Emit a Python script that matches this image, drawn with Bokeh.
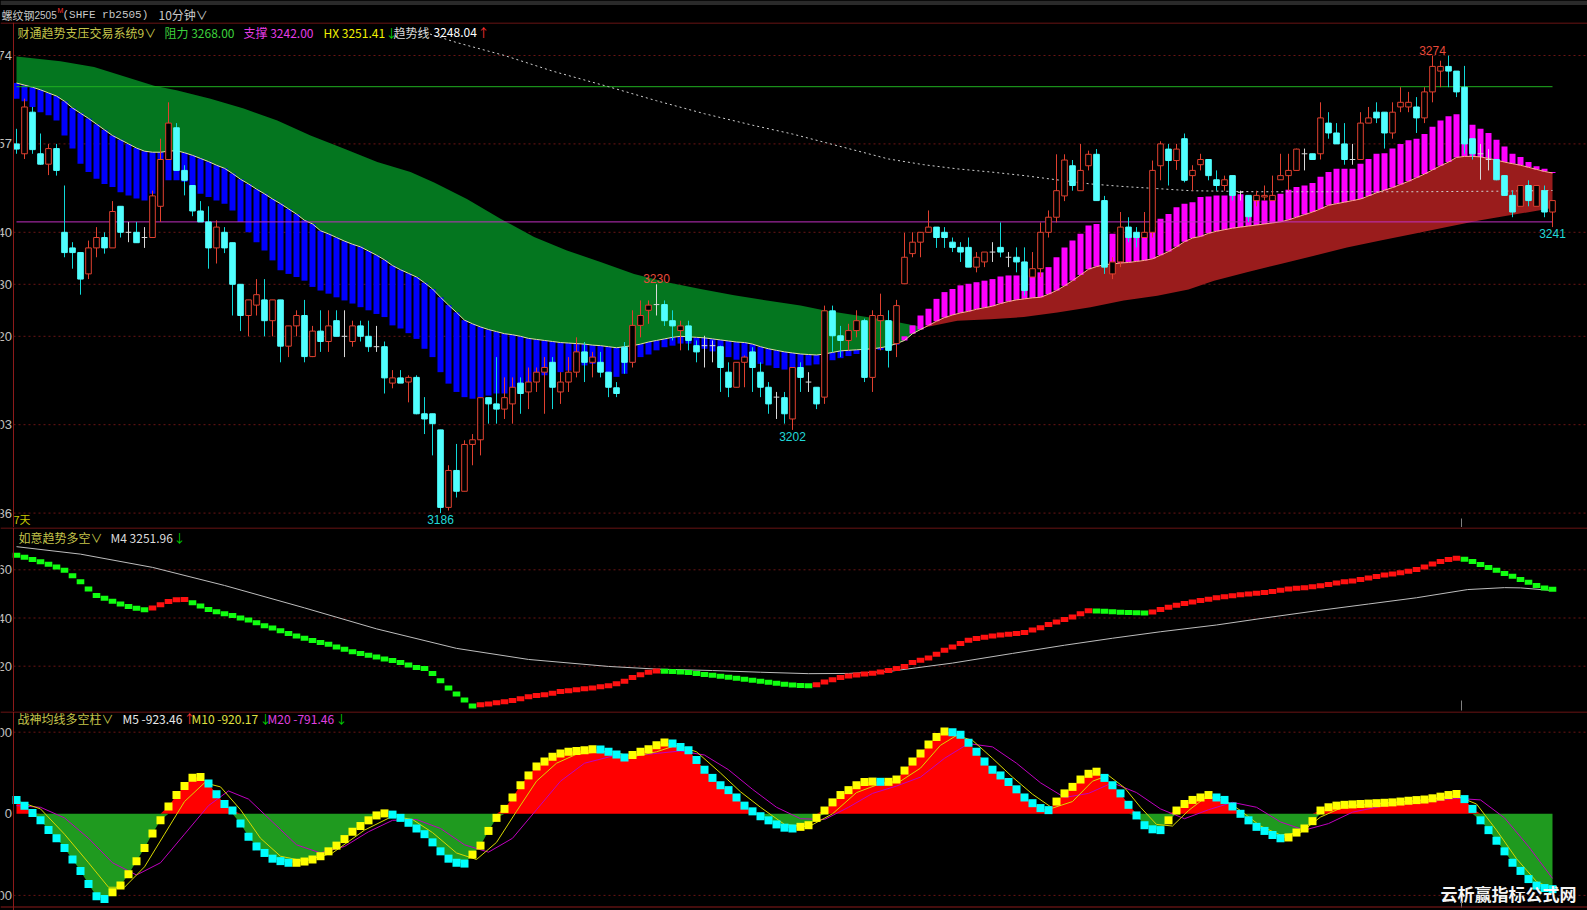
import numpy as np
from bokeh.plotting import figure
from bokeh.layouts import column
from bokeh.models import Range1d, Span
from bokeh.core.properties import value
from bokeh.embed import file_html
from bokeh.resources import INLINE

# ---------------- data ----------------
bar_open = [
 3257.0,3255.1,3263.1,3255.1,3253.1,3256.1,3240.0,3237.0,3236.1,3232.0,
 3237.0,3239.0,3237.0,3245.0,3240.0,3240.0,3239.0,3239.0,3245.0,3254.0,
 3260.1,3251.9,3249.0,3244.1,3242.0,3237.0,3240.0,3238.0,3230.0,3224.0,
 3226.0,3227.0,3223.0,3227.0,3218.1,3222.0,3224.0,3216.1,3221.0,3219.0,
 3223.0,3220.0,3219.0,3222.0,3220.0,3218.0,3218.0,3211.0,3212.0,3211.2,
 3212.1,3205.1,3205.1,3202.0,3187.1,3194.2,3190.2,3199.2,3200.1,3208.2,
 3207.0,3206.0,3207.0,3211.0,3209.3,3211.2,3213.1,3215.0,3209.3,3211.2,
 3213.1,3217.0,3215.0,3215.0,3213.1,3210.1,3217.9,3215.0,3222.1,3225.0,
 3226.1,3226.1,3223.0,3221.1,3222.0,3218.2,3218.2,3218.2,3218.0,3213.1,
 3210.2,3215.0,3217.0,3213.1,3210.2,3208.3,3208.2,3204.1,3214.0,3211.2,
 3210.2,3208.3,3224.9,3220.1,3219.2,3221.1,3223.0,3212.1,3223.0,3223.0,
 3218.6,3230.1,3235.9,3238.1,3240.0,3241.0,3240.0,3238.1,3237.1,3237.1,
 3233.3,3234.3,3236.2,3237.1,3235.2,3235.2,3234.3,3231.4,3233.0,3240.0,
 3242.9,3247.0,3252.8,3248.0,3252.8,3255.0,3246.1,3232.0,3234.3,3241.0,
 3240.0,3239.0,3240.0,3252.8,3256.0,3253.8,3258.0,3250.9,3253.0,3254.0,
 3250.1,3249.0,3250.9,3247.7,3247.1,3246.1,3246.8,3246.1,3250.1,3250.9,
 3251.9,3255.1,3255.1,3255.1,3261.0,3259.1,3257.0,3254.0,3254.0,3261.0,
 3263.1,3263.1,3259.1,3264.1,3264.1,3264.1,3262.0,3267.0,3271.0,3271.9,
 3271.0,3267.9,3258.0,3255.1,3254.0,3254.0,3250.9,3247.1,3245.0,3249.0,
 3245.0,3248.0,3243.9]
bar_high = [
 3259.9,3265.7,3264.1,3259.0,3257.0,3257.0,3249.0,3238.1,3236.1,3238.4,
 3241.0,3240.0,3246.0,3245.0,3242.0,3242.0,3241.0,3248.0,3258.0,3265.0,
 3261.0,3252.9,3249.0,3246.0,3245.0,3242.3,3241.0,3238.0,3230.0,3227.0,
 3231.0,3231.0,3227.0,3227.0,3222.0,3225.0,3227.0,3222.0,3225.0,3225.0,
 3225.0,3225.0,3223.0,3223.0,3223.0,3222.0,3219.0,3213.5,3213.5,3212.5,
 3212.5,3208.3,3205.1,3202.0,3195.2,3199.3,3200.0,3201.2,3208.2,3208.2,
 3216.0,3212.1,3212.1,3212.1,3214.0,3214.0,3216.0,3216.0,3213.1,3216.0,
 3219.8,3218.9,3217.0,3217.0,3213.1,3211.2,3218.9,3225.0,3226.9,3226.9,
 3230.0,3226.9,3225.0,3223.0,3223.0,3219.2,3220.1,3219.2,3218.2,3215.0,
 3215.0,3216.3,3217.9,3215.0,3211.2,3209.3,3209.3,3214.0,3215.0,3213.1,
 3210.2,3225.9,3225.9,3222.0,3222.4,3225.0,3223.4,3225.0,3228.2,3225.0,
 3227.0,3239.9,3240.0,3240.0,3244.2,3241.0,3241.0,3239.0,3238.1,3239.0,
 3236.2,3236.2,3238.1,3241.9,3236.2,3237.1,3237.1,3236.2,3241.9,3244.2,
 3255.0,3255.0,3253.9,3257.0,3255.7,3256.0,3247.0,3235.2,3243.9,3242.9,
 3241.0,3243.9,3253.8,3257.5,3257.0,3257.0,3259.0,3252.9,3255.1,3254.0,
 3251.9,3250.9,3250.9,3248.0,3247.1,3248.0,3249.0,3250.9,3255.1,3255.1,
 3256.1,3256.1,3255.1,3265.0,3263.1,3261.0,3261.0,3257.0,3263.1,3264.1,
 3265.0,3263.1,3265.0,3267.9,3267.0,3266.0,3267.9,3274.0,3273.0,3274.0,
 3271.0,3272.0,3258.0,3257.0,3256.0,3254.0,3251.0,3248.0,3249.0,3250.0,
 3249.0,3249.0,3246.1]
bar_low = [
 3255.1,3254.1,3255.1,3253.0,3251.0,3250.9,3235.2,3233.0,3228.0,3231.0,
 3235.2,3235.9,3237.0,3239.0,3238.1,3238.0,3237.0,3239.0,3242.0,3254.0,
 3251.9,3247.1,3243.1,3242.0,3233.0,3234.0,3236.0,3224.0,3221.0,3220.0,
 3224.0,3220.0,3220.0,3215.0,3216.0,3220.0,3215.0,3216.0,3217.0,3217.0,
 3220.0,3216.0,3218.0,3219.0,3217.0,3217.0,3209.0,3210.0,3211.0,3207.3,
 3205.0,3201.2,3197.1,3186.0,3186.5,3189.0,3190.2,3195.2,3197.1,3203.2,
 3203.2,3204.1,3203.2,3205.1,3206.0,3209.3,3205.1,3206.0,3207.0,3209.3,
 3212.1,3211.2,3212.1,3212.1,3208.3,3208.3,3212.8,3214.0,3219.8,3222.4,
 3224.0,3222.0,3219.2,3217.3,3217.3,3215.0,3214.0,3215.0,3209.3,3208.3,
 3210.2,3210.2,3209.3,3208.3,3205.1,3204.1,3203.2,3202.0,3209.3,3209.3,
 3206.0,3207.0,3217.0,3216.0,3217.3,3219.8,3211.2,3209.3,3217.3,3214.0,
 3216.0,3230.1,3235.2,3235.2,3240.0,3237.0,3237.0,3236.2,3234.3,3233.3,
 3232.3,3233.3,3234.3,3235.2,3233.3,3232.3,3227.8,3231.4,3231.4,3239.0,
 3241.9,3246.0,3248.0,3248.0,3251.9,3246.1,3232.0,3231.0,3233.3,3238.1,
 3237.1,3239.0,3239.0,3250.0,3249.0,3252.0,3249.6,3248.0,3251.9,3250.0,
 3248.0,3248.0,3246.1,3246.1,3242.0,3245.0,3246.1,3246.1,3250.1,3248.0,
 3251.9,3251.9,3254.0,3254.0,3258.0,3257.0,3253.0,3253.0,3254.0,3261.0,
 3261.0,3256.1,3258.0,3263.1,3263.1,3259.1,3261.0,3265.0,3267.9,3267.9,
 3266.0,3255.1,3254.0,3250.1,3251.9,3250.0,3247.0,3242.9,3245.0,3245.0,
 3245.0,3242.9,3241.0]
bar_close = [
 3256.0,3264.1,3255.9,3253.1,3256.1,3251.9,3236.1,3236.1,3231.0,3237.0,
 3239.0,3237.0,3244.0,3240.0,3240.0,3238.0,3239.0,3247.0,3254.0,3261.0,
 3251.9,3250.0,3244.1,3242.0,3237.0,3241.0,3237.0,3230.0,3224.0,3227.0,
 3228.0,3223.0,3227.0,3218.1,3222.0,3224.0,3216.1,3221.0,3219.0,3222.0,
 3220.0,3220.0,3222.0,3220.0,3218.0,3218.0,3212.0,3212.0,3211.0,3212.1,
 3205.1,3204.1,3203.2,3187.1,3194.2,3190.2,3199.2,3200.1,3208.2,3207.0,
 3206.0,3208.2,3210.2,3209.0,3211.2,3213.1,3214.0,3210.2,3211.2,3213.1,
 3217.0,3215.0,3216.0,3213.1,3210.2,3209.0,3215.0,3222.1,3224.0,3226.0,
 3226.1,3223.0,3222.0,3222.0,3219.2,3217.0,3218.2,3218.2,3214.0,3210.2,
 3215.0,3216.0,3214.0,3210.2,3207.0,3208.3,3205.1,3214.0,3212.1,3211.2,
 3207.0,3224.9,3220.1,3219.2,3221.1,3223.0,3212.1,3224.0,3224.0,3217.3,
 3225.9,3235.2,3238.1,3240.0,3241.0,3239.0,3239.0,3237.1,3236.2,3233.3,
 3235.2,3236.2,3236.2,3236.2,3235.2,3234.3,3228.8,3233.0,3240.0,3242.9,
 3248.0,3253.9,3249.0,3251.9,3255.0,3246.1,3233.3,3234.3,3241.0,3239.0,
 3239.0,3240.0,3251.9,3257.0,3253.8,3256.0,3250.0,3251.9,3254.0,3250.9,
 3249.0,3250.1,3247.1,3247.7,3243.0,3247.1,3247.1,3247.1,3250.9,3251.9,
 3256.0,3255.1,3254.0,3262.0,3259.1,3257.0,3254.0,3254.0,3261.0,3262.0,
 3262.0,3259.1,3263.1,3265.0,3265.0,3262.0,3267.0,3271.9,3271.9,3271.0,
 3267.0,3257.0,3255.1,3255.1,3254.0,3250.1,3247.1,3243.9,3249.0,3246.1,
 3249.0,3243.9,3246.1]

# trend system: middle line (HX) and short line (bar ends), per bar
hx_mid = [
 3268.7,3268.3,3267.9,3267.4,3266.8,3266.2,3265.2,3263.9,3262.9,3261.9,
 3260.8,3259.7,3258.6,3257.8,3257.0,3256.2,3255.6,3255.4,3255.4,3255.6,
 3255.7,3255.3,3254.8,3254.2,3253.6,3252.9,3252.3,3251.3,3250.2,3249.3,
 3248.3,3247.4,3246.4,3245.5,3244.5,3243.5,3242.3,3241.6,3240.3,3239.7,
 3239.0,3238.3,3237.7,3237.2,3236.4,3235.6,3234.7,3233.6,3232.8,3232.1,
 3231.4,3230.3,3229.1,3227.5,3226.0,3224.6,3223.1,3222.4,3221.8,3221.3,
 3220.9,3220.5,3220.3,3220.0,3219.6,3219.4,3219.2,3219.0,3218.8,3218.7,
 3218.6,3218.5,3218.3,3218.2,3218.0,3217.8,3218.0,3218.2,3218.5,3218.9,
 3219.2,3219.5,3219.8,3220.0,3219.9,3219.8,3219.7,3219.5,3219.3,3219.1,
 3218.9,3218.8,3218.5,3218.0,3217.6,3217.3,3217.0,3216.8,3216.6,3216.5,
 3216.4,3216.6,3216.9,3217.2,3217.3,3217.4,3217.5,3217.6,3217.8,3218.1,
 3218.6,3219.2,3220.5,3221.3,3222.1,3222.9,3223.6,3224.1,3224.5,3224.8,
 3225.2,3225.5,3225.8,3226.3,3226.7,3227.0,3227.2,3227.4,3227.5,3228.1,
 3228.8,3229.7,3230.7,3231.8,3232.9,3233.4,3233.8,3233.9,3234.1,3234.2,
 3234.4,3234.6,3234.9,3235.6,3236.3,3237.2,3238.2,3238.9,3239.2,3239.8,
 3240.2,3240.5,3240.8,3241.0,3241.2,3241.4,3241.6,3241.8,3242.0,3242.4,
 3242.9,3243.4,3243.9,3244.5,3245.2,3245.5,3245.8,3246.1,3246.4,3247.0,
 3247.6,3248.1,3248.6,3249.2,3249.8,3250.5,3251.2,3252.0,3252.8,3253.5,
 3254.4,3254.6,3254.6,3254.5,3254.2,3253.9,3253.5,3253.2,3252.9,3252.5,
 3252.1,3251.7,3251.4]
hx_short = [
 3265.7,3265.2,3264.1,3263.1,3262.5,3261.5,3258.6,3256.1,3253.2,3251.6,
 3250.3,3249.3,3248.7,3247.7,3247.1,3246.5,3246.1,3247.4,3248.7,3250.0,
 3250.0,3249.7,3248.4,3247.4,3246.8,3246.1,3245.5,3244.2,3242.0,3240.0,
 3238.1,3236.5,3234.6,3232.7,3232.0,3231.4,3230.7,3229.5,3228.8,3228.2,
 3227.5,3226.9,3226.3,3225.6,3225.0,3224.3,3223.7,3222.1,3221.5,3220.6,
 3219.5,3217.6,3216.0,3213.1,3210.9,3209.3,3208.3,3208.0,3208.3,3208.6,
 3209.0,3209.0,3209.6,3210.5,3211.2,3212.2,3212.5,3213.1,3213.1,3213.4,
 3214.1,3214.4,3214.7,3213.7,3213.1,3212.2,3212.8,3215.0,3216.0,3216.5,
 3217.3,3217.9,3218.2,3218.6,3218.6,3218.2,3217.6,3217.1,3216.6,3216.0,
 3215.5,3215.4,3215.0,3214.7,3214.4,3213.9,3213.6,3213.4,3214.0,3214.4,
 3214.6,3215.0,3215.4,3215.8,3216.2,3216.6,3216.9,3217.1,3217.4,3217.8,
 3218.4,3220.0,3222.1,3224.0,3225.3,3227.2,3228.5,3229.1,3229.8,3230.1,
 3230.4,3230.7,3231.0,3231.5,3231.7,3231.7,3231.7,3231.4,3232.3,3233.3,
 3235.2,3237.1,3238.4,3239.7,3241.3,3241.6,3239.7,3239.7,3239.6,3239.6,
 3239.4,3239.4,3241.0,3242.6,3243.5,3244.8,3245.5,3245.8,3246.8,3246.9,
 3247.1,3247.1,3247.3,3247.3,3246.8,3246.2,3246.1,3246.6,3247.4,3248.2,
 3248.7,3249.0,3249.5,3250.7,3251.6,3252.2,3252.2,3252.2,3253.2,3254.1,
 3255.1,3255.2,3256.1,3257.0,3257.7,3258.0,3258.9,3260.3,3261.5,3262.3,
 3262.7,3261.5,3260.7,3259.9,3259.1,3257.8,3256.5,3255.1,3254.5,3253.5,
 3252.7,3252.2,3251.6]
# slow line: falling part (above HX) and rising part (below HX), sampled
slow_dn_x = [0, 5.5, 9.7, 13.8, 17.2, 20, 24.25, 28.4, 32.6, 36.75, 40.9, 45.1, 49.25,
             52.2, 56.3, 60.5, 64.7, 68.8, 73, 77.2, 81.3, 85.5, 89.7, 93.8, 98, 100.9,
             105.1, 109.25, 113.5]
slow_dn_y = [3273.8, 3272.9, 3271.8, 3269.8, 3268.2, 3267.3, 3265.7, 3263.8, 3261.5, 3258.6,
             3256.1, 3253.5, 3251.6, 3249.6, 3246.4, 3242.6, 3239.1, 3236.5, 3234.3, 3232.0,
             3230.4, 3229.1, 3227.9, 3226.9, 3225.9, 3225.0, 3224.0, 3223.0, 3221.7]
slow_up_x = [113.5, 117.6, 121.75, 125.9, 130.1, 134.25, 138.4, 142.6, 146.5, 149.7, 153.8,
             158, 162.2, 166.3, 170.5, 174.7, 178.8, 183, 187.2, 191.3, 192]
slow_up_y = [3221.7, 3223.0, 3223.3, 3223.7, 3224.6, 3225.6, 3226.9, 3227.8, 3229.0, 3230.7,
             3232.3, 3233.9, 3235.5, 3237.1, 3238.4, 3239.7, 3241.0, 3242.3, 3243.4, 3244.5,
             3244.7]
trend_x = [50.5, 55, 61, 67, 74, 80, 86, 92, 97, 101, 105, 109, 113.4, 117.6, 121.75, 126,
           130, 134.25, 138.4, 142.6, 146.75, 155, 165, 175, 185, 192]
trend_y = [3278.7, 3276.5, 3274.0, 3271.0, 3268.0, 3265.3, 3262.8, 3260.6, 3258.9, 3257.3,
           3255.7, 3254.1, 3253.0, 3252.2, 3251.6, 3250.9, 3250.1, 3249.3, 3248.8, 3248.4,
           3248.0, 3247.8, 3247.8, 3247.8, 3247.9, 3248.04]
resistance = 3268.00
support = 3242.00
hx_last = 3251.41
trend_last = 3248.04
main_ticks = [3274, 3257, 3240, 3230, 3220, 3203, 3186]
hi_lo_marks = [(177, "high"), (80, "high"), (53, "low"), (97, "low"), (192, "low")]

# panel 2: 如意趋势多空 M4 and its slow line
m4 = [
 3266.0,3265.2,3264.3,3263.3,3262.3,3261.2,3259.8,3257.5,3255.0,3252.0,
 3249.3,3248.2,3247.0,3245.8,3244.8,3244.0,3243.4,3244.2,3245.5,3246.8,
 3247.6,3247.7,3246.3,3245.0,3243.5,3242.6,3241.8,3241.0,3240.0,3239.2,
 3238.0,3236.8,3235.8,3234.7,3233.6,3232.5,3231.6,3230.7,3229.8,3229.1,
 3228.0,3227.0,3226.0,3225.3,3224.5,3223.8,3223.0,3222.4,3221.5,3220.5,
 3219.5,3219.0,3217.0,3214.0,3211.0,3208.5,3206.0,3203.5,3204.0,3204.3,
 3204.8,3205.3,3205.8,3206.5,3207.3,3207.8,3208.2,3208.8,3209.5,3209.8,
 3210.2,3210.6,3211.0,3211.5,3211.9,3212.7,3213.8,3215.3,3216.5,3217.5,
 3218.0,3217.9,3217.8,3217.6,3217.4,3217.0,3216.6,3216.2,3215.8,3215.4,
 3215.0,3214.6,3214.2,3213.8,3213.3,3212.9,3212.5,3212.2,3212.0,3211.9,
 3212.3,3213.4,3214.4,3215.3,3215.9,3216.4,3216.8,3217.1,3217.6,3218.2,
 3219.0,3219.9,3221.5,3222.5,3223.4,3225.0,3226.6,3228.0,3229.4,3230.8,
 3231.5,3232.0,3232.5,3232.9,3233.3,3233.6,3234.0,3235.0,3236.0,3237.3,
 3238.3,3239.4,3240.4,3241.8,3243.0,3242.9,3242.8,3242.6,3242.4,3242.3,
 3242.2,3242.1,3242.5,3243.5,3244.5,3245.3,3246.0,3246.6,3247.3,3247.8,
 3248.4,3248.8,3249.2,3249.6,3250.0,3250.3,3250.6,3251.0,3251.5,3252.0,
 3252.3,3252.6,3253.0,3253.4,3253.9,3254.5,3255.0,3255.4,3256.0,3256.6,
 3257.2,3257.8,3258.3,3258.8,3259.4,3260.1,3261.2,3262.4,3263.4,3264.3,
 3264.8,3264.4,3263.4,3262.2,3261.0,3259.8,3258.5,3257.3,3256.0,3254.8,
 3253.5,3252.4,3251.96]
m4_slow_x = [0, 8, 17, 26, 36, 45, 55, 64, 74, 80, 87, 93, 99, 104, 109, 117, 124.5, 131,
             137, 143, 150, 156, 162.5, 169, 175, 181.4, 186, 188, 192]
m4_slow_y = [3269.6, 3266.5, 3261.0, 3253.5, 3244.2, 3235.5, 3227.4, 3222.8, 3219.9, 3218.8,
             3218.2, 3217.5, 3216.9, 3217.0, 3217.8, 3221.3, 3225.3, 3228.7, 3231.6, 3234.3,
             3237.1, 3240.0, 3243.0, 3245.8, 3248.4, 3251.8, 3252.6, 3252.5, 3251.4]
p2_ticks = [3260, 3240, 3220]

# panel 3: 战神均线多空柱 M5 / M10 / M20
m5 = [
 168,100,10,-80,-200,-300,-420,-560,-700,-860,
 -1010,-1045,-960,-880,-740,-580,-420,-240,-80,90,
 230,340,441,450,370,240,120,40,-120,-280,
 -400,-480,-550,-580,-600,-600,-585,-560,-520,-460,
 -390,-310,-220,-150,-80,-20,5,-10,-50,-110,
 -180,-250,-350,-460,-550,-600,-610,-500,-390,-210,
 -50,60,200,350,470,580,640,700,740,760,
 770,780,790,789,760,727,690,720,760,790,
 840,875,860,820,780,660,540,440,350,290,
 200,100,30,-30,-80,-130,-170,-180,-160,-140,
 -50,40,140,230,290,350,390,395,392,392,
 420,530,640,740,850,940,1010,1000,970,870,
 760,640,540,470,390,300,200,130,70,45,
 150,250,330,420,490,516,440,350,250,110,
 -20,-140,-190,-200,-80,40,120,170,200,230,
 200,170,90,0,-80,-160,-210,-260,-300,-290,
 -230,-180,-90,40,80,100,110,115,120,125,
 130,135,140,150,160,168,175,190,210,230,
 243,180,60,-80,-200,-330,-460,-600,-700,-800,
 -880,-910,-923.46]
m10_x = [0, 3, 6, 9, 11.5, 13.5, 16, 18.5, 21, 23.5, 25.5, 28, 30.5, 33, 36, 39.5, 43.5, 47,
         49.5, 52, 55, 57.5, 60, 62.5, 65, 67.5, 70, 74, 77, 80, 82.5, 85, 88, 90.5, 93, 96,
         99, 102, 105, 108, 110.5, 113, 115.5, 117.5, 119.5, 122, 124.5, 127, 129.5, 132,
         134.5, 136.5, 138.5, 140.5, 142.5, 144.5, 146.5, 148.5, 150.5, 153, 155.5, 158,
         160.5, 163, 166, 170, 175, 180, 182.5, 185, 187.5, 190, 192]
m10_y = [160, 60, -250, -600, -900, -900, -650, -250, 150, 380, 330, 50, -300, -520, -580,
         -480, -200, -30, -70, -230, -480, -560, -350, 30, 400, 620, 730, 770, 700, 760, 840,
         760, 500, 270, 80, -130, -160, 0, 260, 370, 400, 560, 840, 960, 900, 680, 450, 240,
         70, 150, 400, 470, 320, 80, -130, -150, 40, 190, 200, 40, -150, -260, -230, -40, 90,
         125, 160, 220, 120, -200, -550, -830, -920.17]
m20_x = [0, 3, 6, 9, 12, 15, 18, 21, 24, 26.5, 29, 32, 35, 38, 41, 44, 47, 50, 53, 56, 59,
         62, 65, 68, 71, 75, 79, 83, 86, 89, 92, 95, 98, 101, 104, 107, 110, 113, 116, 119,
         122, 125, 128, 131, 134, 137, 140, 143, 146, 149, 152, 155, 158, 161, 164, 167, 171,
         176, 180, 183, 186, 189, 192]
m20_y = [100, 80, -50, -300, -600, -750, -600, -250, 100, 280, 180, -100, -380, -480, -400,
         -220, -80, -70, -180, -380, -470, -300, 50, 400, 620, 720, 730, 770, 720, 540, 300, 80,
         -60, -70, 80, 250, 340, 450, 680, 860, 820, 620, 380, 200, 250, 380, 260, 60, -60, 50,
         140, 80, -100, -200, -120, 20, 100, 140, 190, 170, -50, -400, -791.46]
p3_ticks = [1000, 0, -1000]

# ---------------- layout helpers (pixel -> data) ----------------
W = 1587
def bx(px):
    return (px - 16.0) / 8.0
def y_main(py):
    return 3274.0 - (py - 55.0) / 5.2
def y_p2(py):
    return 3260.0 - (py - 569.3) / 2.41
def y_p3(py):
    return (813.3 - py) / 0.0816

BORDER = "#8c1a1a"
GRID = "#6a1414"
OLIVE = "#c4c44a"
CJK = "Noto Sans CJK SC"

def panel(h, y0, y1, xr=None):
    xr = xr or (bx(0), bx(W))
    p = figure(width=W, height=h, x_range=Range1d(*xr), y_range=Range1d(y0, y1),
               x_axis_location=None, y_axis_location=None, toolbar_location=None,
               output_backend="svg", min_border=0, background_fill_color="#000000",
               border_fill_color="#000000", outline_line_color=None)
    p.grid.visible = False
    return p

def txt(p, x, y, s, color, size="12px", font=CJK, align="left", baseline="middle", style="normal"):
    p.text(x=[x], y=[y], text=[s], text_color=color, text_font=value(font),
           text_font_size=size, text_align=align, text_baseline=baseline,
           text_font_style=style)

N = len(bar_close)
idx = np.arange(N, dtype=float)

# ---------------- header strip ----------------
ph = panel(22, 22, 0, xr=(0, W))
ph.quad(left=[0], right=[W], top=[0], bottom=[4.5], fill_color="#2a2a2a", line_color=None)
txt(ph, 1, 14, "螺纹钢", "#c8c8c8", size="11px")
txt(ph, 34, 14, "2505", "#c8c8c8", size="10px", font="Liberation Sans")
txt(ph, 57, 9.5, "M", "#ff3030", size="7px", font="Liberation Sans")
txt(ph, 62, 14, "(SHFE rb2505)", "#c8c8c8", size="11px", font="Liberation Mono")
txt(ph, 158, 14, "10分钟∨", "#c8c8c8")

# ---------------- main panel ----------------
pm = panel(505, y_main(527), y_main(22))
pm.segment(x0=bx(13), x1=bx(W), y0=main_ticks, y1=main_ticks, line_color=GRID, line_dash="2 3")

o = np.array(bar_open); h = np.array(bar_high); l = np.array(bar_low); c = np.array(bar_close)
mid = np.array(hx_mid); sh = np.array(hx_short)
k = int(np.floor(slow_dn_x[-1]))
gx = list(slow_dn_x) + list(idx[k::-1])
gy = list(slow_dn_y) + list(mid[k::-1])
pm.patch(gx, gy, fill_color="#04761f", line_color=None)
rx = [slow_up_x[0]] + list(idx[k + 1:]) + list(slow_up_x[::-1])
ry = [slow_up_y[0]] + list(mid[k + 1:]) + list(slow_up_y[::-1])
pm.patch(rx, ry, fill_color="#9a1c1c", line_color=None)

bar_col = np.where(sh > mid, "#ff00ff", "#0000ff")
pm.vbar(x=idx, bottom=np.minimum(sh, mid), top=np.maximum(sh, mid), width=0.75,
        fill_color=bar_col, line_color=None)
pm.line(list(idx[:k + 1]) + [slow_dn_x[-1]], list(mid[:k + 1]) + [slow_dn_y[-1]],
        line_color="#e4e49c", line_width=1)
pm.line([slow_up_x[0]] + list(idx[k + 1:]), [slow_up_y[0]] + list(mid[k + 1:]),
        line_color="#ffae8c", line_width=1)

pm.line([idx[0], idx[-1]], [resistance, resistance], line_color="#20b020", line_width=1)
pm.line([idx[0], idx[-1]], [support, support], line_color="#c030c0", line_width=1)
pm.line(trend_x, trend_y, line_color="#d0d0d0", line_dash="2 3", line_width=1)

RED = "#e0402f"; CYAN = "#50ffff"; CYW = "#10d8d8"; DOJI = "#d8d8d8"
up = c > o; dn = c < o; dj = c == o
pm.segment(x0=idx[up], x1=idx[up], y0=l[up], y1=h[up], line_color=RED)
pm.vbar(x=idx[up], bottom=o[up], top=c[up], width=0.7, fill_color="#000000", line_color=RED)
pm.segment(x0=idx[dn], x1=idx[dn], y0=l[dn], y1=h[dn], line_color=CYW)
pm.vbar(x=idx[dn], bottom=c[dn], top=o[dn], width=0.7, fill_color=CYAN, line_color=CYAN)
pm.segment(x0=idx[dj], x1=idx[dj], y0=l[dj], y1=h[dj], line_color=DOJI)
pm.segment(x0=idx[dj] - 0.35, x1=idx[dj] + 0.35, y0=o[dj], y1=o[dj], line_color=DOJI)

for i, kind in hi_lo_marks:
    if kind == "high":
        pm.text(x=[i], y=[h[i]], text=[f"{h[i]:.0f}"], text_color="#e84a3a",
                text_font=value("Liberation Sans"), text_font_size="12px",
                text_align="center", text_baseline="bottom", y_offset=-1)
    else:
        pm.text(x=[i], y=[l[i]], text=[f"{l[i]:.0f}"], text_color="#20d8d8",
                text_font=value("Liberation Sans"), text_font_size="12px",
                text_align="center", text_baseline="top", y_offset=2)

for t in main_ticks:
    txt(pm, bx(11.5), t, str(t), "#c0c0c0", size="13px", font="Liberation Sans", align="right")
ym = y_main(31.7)
txt(pm, bx(17), ym, "财通趋势支压交易系统9∨", OLIVE)
txt(pm, bx(164), ym, f"阻力 {resistance:.2f}", "#3cd03c")
txt(pm, bx(243), ym, f"支撑 {support:.2f}", "#e43ce4")
txt(pm, bx(323), ym, f"HX {hx_last:.2f}", "#f0f000")
txt(pm, bx(385), ym, "↓", "#00d000")
txt(pm, bx(393), ym, "趋势线", "#d8d8d8")
txt(pm, bx(433), ym, f"{trend_last:.2f}", "#ffffff")
txt(pm, bx(477), ym, "↑", "#ff3030")
txt(pm, bx(13), y_main(518), "7天", "#c8c800", size="11px")
pm.segment(x0=[bx(1461)], x1=[bx(1461)], y0=[y_main(518)], y1=[y_main(527)], line_color="#808080")
pm.add_layout(Span(location=bx(13), dimension="height", line_color=BORDER, line_width=1))
pm.add_layout(Span(location=y_main(22.5), dimension="width", line_color=BORDER, line_width=1))

# ---------------- panel 2 ----------------
p2 = panel(184, y_p2(711), y_p2(527))
p2.segment(x0=bx(13), x1=bx(W), y0=p2_ticks, y1=p2_ticks, line_color=GRID, line_dash="2 3")
p2.line(m4_slow_x, m4_slow_y, line_color="#bdbdbd", line_width=1)
m4a = np.array(m4)
m4_col = np.where(np.diff(m4a, prepend=m4a[0] + 1) >= 0, "#ff1010", "#10ff10")
p2.rect(x=idx, y=m4a, width=0.95, height=5, height_units="screen", fill_color=m4_col, line_color=None)
for t in p2_ticks:
    txt(p2, bx(11.5), t, str(t), "#c0c0c0", size="13px", font="Liberation Sans", align="right")
y2 = y_p2(536.7)
txt(p2, bx(18), y2, "如意趋势多空∨", OLIVE)
txt(p2, bx(110), y2, f"M4 {m4[-1]:.2f}", "#dcdcdc")
txt(p2, bx(173), y2, "↓", "#00d000")
p2.segment(x0=[bx(1461)], x1=[bx(1461)], y0=[y_p2(700)], y1=[y_p2(710)], line_color="#808080")
p2.add_layout(Span(location=bx(13), dimension="height", line_color=BORDER, line_width=1))
p2.add_layout(Span(location=y_p2(527.5), dimension="width", line_color=BORDER, line_width=1))

# ---------------- panel 3 ----------------
p3 = panel(199, y_p3(910), y_p3(711))
p3.segment(x0=bx(13), x1=bx(W), y0=[1000, -1000], y1=[1000, -1000], line_color=GRID, line_dash="2 3")
m5a = np.array(m5, dtype=float)
p3.varea(x=idx, y1=np.zeros(N), y2=np.maximum(m5a, 0), fill_color="#ff0000")
p3.varea(x=idx, y1=np.zeros(N), y2=np.minimum(m5a, 0), fill_color="#1f9a1f")
p3.line(m20_x, m20_y, line_color="#c000c0", line_width=1)
p3.line(m10_x, m10_y, line_color="#d8d800", line_width=1)
m5_col = np.where(np.diff(m5a, prepend=m5a[0] + 1) >= 0, "#ffff00", "#00ffff")
p3.rect(x=idx, y=m5a, width=1.0, height=8, height_units="screen", fill_color=m5_col, line_color=None)
for t in p3_ticks:
    txt(p3, bx(11.5), t, str(t), "#c0c0c0", size="13px", font="Liberation Sans", align="right")
y3 = y_p3(718.3)
txt(p3, bx(17), y3, "战神均线多空柱∨", OLIVE)
txt(p3, bx(122), y3, f"M5 {m5[-1]:.2f}", "#e8e8e8")
txt(p3, bx(183), y3, "↑", "#ff3030")
txt(p3, bx(191), y3, f"M10 {m10_y[-1]:.2f}", "#e0e040")
txt(p3, bx(259), y3, "↓", "#00d000")
txt(p3, bx(267), y3, f"M20 {m20_y[-1]:.2f}", "#e040e0")
txt(p3, bx(335), y3, "↓", "#00d000")
txt(p3, bx(1440), y_p3(893), "云析赢指标公式网", "#f4f4f4", size="17px", style="bold")
p3.segment(x0=[bx(1461)], x1=[bx(1461)], y0=[y_p3(901)], y1=[y_p3(907)], line_color="#808080")
p3.add_layout(Span(location=bx(13), dimension="height", line_color=BORDER, line_width=1))
p3.add_layout(Span(location=y_p3(711.5), dimension="width", line_color=BORDER, line_width=1))
p3.add_layout(Span(location=y_p3(906.5), dimension="width", line_color=BORDER, line_width=1))

layout = column(ph, pm, p2, p3, spacing=0, styles={"background-color": "#000000"})
open("out.html", "w").write(file_html(layout, INLINE))
